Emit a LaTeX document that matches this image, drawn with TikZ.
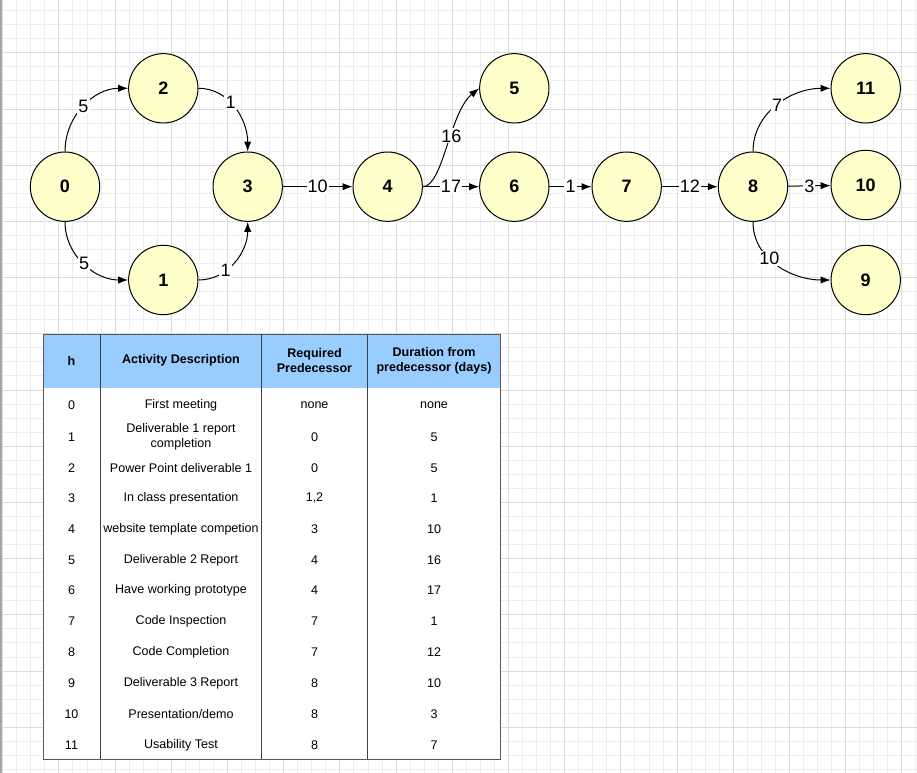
\documentclass[tikz,border=0pt]{standalone}
\usepackage{fontspec}
\setmainfont{Liberation Sans}
\usetikzlibrary{arrows.meta}
\definecolor{nodefill}{HTML}{FFFFCC}
\definecolor{headblue}{HTML}{99CCFF}
\definecolor{gridminor}{HTML}{EDEDED}
\definecolor{gridmajor}{HTML}{DCDCDC}
\begin{document}
\begin{tikzpicture}[x=0.75pt,y=0.75pt,>={Latex[length=7.5pt,width=5.5pt]},
    state/.style={circle,draw,line width=0.75pt,fill=nodefill,minimum size=52pt,inner sep=0pt,font=\fontsize{13.5}{16}\selectfont\bfseries},
    weight/.style={fill=white,inner sep=0.8pt,font=\fontsize{13.5}{16}\selectfont},
    link/.style={->,line width=0.75pt},
    cell/.style={align=center,font=\fontsize{9.4}{11.3}\selectfont},
    headcell/.style={align=center,font=\fontsize{9.4}{11.3}\selectfont\bfseries}]
    \useasboundingbox (0,0) rectangle (917,-773);
    \fill [white] (0,0) rectangle (917,-773);
    % background grid
    \foreach \i in {0,...,65} {
      \draw [gridminor,line width=0.75pt] ({2.7+14.05*\i},0) -- ({2.7+14.05*\i},-773);
    }
    \foreach \j in {0,...,54} {
      \draw [gridminor,line width=0.75pt] (0,{-10.7-14.05*\j}) -- (917,{-10.7-14.05*\j});
    }
    \foreach \i in {0,4,...,64} {
      \draw [gridmajor,line width=0.75pt] ({2.7+14.05*\i},0) -- ({2.7+14.05*\i},-773);
    }
    \foreach \j in {3,7,...,51} {
      \draw [gridmajor,line width=0.75pt] (0,{-10.7-14.05*\j}) -- (917,{-10.7-14.05*\j});
    }
    \fill [black!35] (0,0) rectangle (2,-773);
    % network
    \node [state] (n0) at (65,-186.7) {0};
    \node [state] (n2) at (163.3,-88.3) {2};
    \node [state] (n1) at (163.3,-280) {1};
    \node [state] (n3) at (247.7,-186.7) {3};
    \node [state] (n4) at (387.7,-186.7) {4};
    \node [state] (n5) at (514.3,-88.3) {5};
    \node [state] (n6) at (514.3,-186.7) {6};
    \node [state] (n7) at (626.7,-186.7) {7};
    \node [state] (n8) at (753,-186.7) {8};
    \node [state] (n11) at (865.7,-88.3) {11};
    \node [state] (n10) at (865.7,-185) {10};
    \node [state] (n9) at (865.7,-280) {9};
    \draw [link] (n0.north) to[out=90,in=180] node [weight] {5} (n2.west);
    \draw [link] (n0.south) to[out=-90,in=180] node [weight] {5} (n1.west);
    \draw [link] (n2.east) to[out=0,in=90] node [weight,pos=0.42] {1} (n3.north);
    \draw [link] (n1.east) to[out=0,in=-90] node [weight,pos=0.35] {1} (n3.south);
    \draw [link] (n3) -- node [weight] {10} (n4);
    \draw [link] (n4.east) .. controls +(20,0) and +(-29.3,-23.7) .. node [weight,pos=0.58] {16} (n5.west);
    \draw [link] (n4) -- node [weight] {17} (n6);
    \draw [link] (n6) -- node [weight] {1} (n7);
    \draw [link] (n7) -- node [weight] {12} (n8);
    \draw [link] (n8.north) to[out=90,in=180] node [weight] {7} (n11.west);
    \draw [link] (n8) -- node [weight] {3} (n10);
    \draw [link] (n8.south) to[out=-90,in=180] node [weight,pos=0.4] {10} (n9.west);
    % table
    \fill [headblue] (43.5,-334.3) rectangle (500.5,-387.7);
    \fill [white] (43.5,-387.7) rectangle (500.5,-759.3);
    \draw [black!65,line width=0.75pt] (43.5,-334.3) rectangle (500.5,-759.3);
    \foreach \x in {100.7,261.7,367.3} {
      \draw [black!75,line width=0.75pt] (\x,-334.3) -- (\x,-759.3);
    }
    \node [headcell] (hh) at (71.5,-360.5) {h};
    \node [headcell] (hact) at (181,-360.5) {Activity Description};
    \node [headcell] (hpre) at (314.5,-360.5) {Required\\Predecessor};
    \node [headcell] (hdur) at (434,-360.5) {Duration from\\predecessor (days)};
    \foreach \y/\h/\act/\pre/\dur in {405/0/First meeting/none/none,
        437/1/{Deliverable 1 report\\completion}/0/5,
        468/2/Power Point deliverable 1/0/5,
        498/3/In class presentation/{1,2}/1,
        529/4/website template competion/3/10,
        560/5/Deliverable 2 Report/4/16,
        590/6/Have working prototype/4/17,
        621/7/Code Inspection/7/1,
        652/8/Code Completion/7/12,
        683/9/Deliverable 3 Report/8/10,
        714/10/{Presentation/demo}/8/3,
        745/11/Usability Test/8/7} {
      \node [cell] (h\h) at (71.5,-\y) {\h};
      \node [cell] (act\h) at (181,-\y) {\act};
      \node [cell] (pre\h) at (314.5,-\y) {\pre};
      \node [cell] (dur\h) at (434,-\y) {\dur};
    }
  \end{tikzpicture}
\end{document}
